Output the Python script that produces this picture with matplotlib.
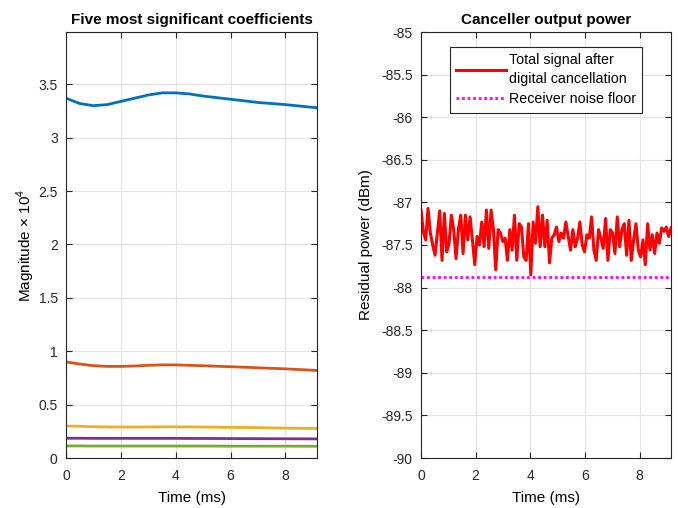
import matplotlib
matplotlib.use('Agg')
import matplotlib.pyplot as plt
import numpy as np

plt.rcParams['font.family'] = ['Liberation Sans', 'DejaVu Sans']
plt.rcParams['mathtext.fontset'] = 'custom'
plt.rcParams['mathtext.rm'] = 'Liberation Sans'
plt.rcParams['axes.unicode_minus'] = False

# Left panel: five largest coefficient magnitudes (x 1e4)
coef_t = [0, 0.5, 1.0, 1.5, 2.0, 2.5, 3.0, 3.5, 4.0, 4.5, 5.0, 6.0, 7.0, 8.0, 9.15]
coef_1 = [3.37, 3.32, 3.30, 3.31, 3.34, 3.37, 3.40, 3.42, 3.42, 3.41, 3.39, 3.36, 3.33, 3.31, 3.28]
coef_2 = [0.90, 0.88, 0.865, 0.858, 0.858, 0.862, 0.868, 0.872, 0.872, 0.868, 0.864, 0.855, 0.845, 0.835, 0.82]
coef_3 = [0.30, 0.297, 0.293, 0.291, 0.290, 0.290, 0.291, 0.292, 0.292, 0.291, 0.290, 0.287, 0.284, 0.280, 0.276]
coef_4 = [0.185, 0.185, 0.184, 0.184, 0.184, 0.184, 0.184, 0.184, 0.184, 0.183, 0.183, 0.182, 0.181, 0.180, 0.179]
coef_5 = [0.113, 0.113, 0.112, 0.112, 0.112, 0.112, 0.112, 0.112, 0.112, 0.112, 0.112, 0.111, 0.111, 0.111, 0.110]
coef_colors = ['#0072BD', '#D95319', '#EDB120', '#7E2F8E', '#77AC30']

# Right panel: residual power after digital cancellation (dBm)
residual = [-87.09, -87.34, -87.44, -87.07, -87.36, -87.50, -87.62, -87.36, -87.10, -87.68,
            -87.13, -87.58, -87.48, -87.15, -87.32, -87.66, -87.32, -87.15, -87.60, -87.15,
            -87.44, -87.17, -87.44, -87.73, -87.40, -87.50, -87.23, -87.52, -87.09, -87.54,
            -87.09, -87.32, -87.79, -87.32, -87.36, -87.46, -87.42, -87.68, -87.32, -87.56,
            -87.15, -87.68, -87.25, -87.29, -87.64, -87.68, -87.25, -87.85, -87.23, -87.48,
            -87.05, -87.52, -87.15, -87.52, -87.21, -87.71, -87.42, -87.38, -87.29, -87.46,
            -87.36, -87.42, -87.23, -87.40, -87.56, -87.32, -87.52, -87.42, -87.23, -87.50,
            -87.58, -87.38, -87.42, -87.17, -87.56, -87.68, -87.32, -87.42, -87.54, -87.19,
            -87.68, -87.32, -87.36, -87.60, -87.17, -87.52, -87.32, -87.25, -87.62, -87.21,
            -87.68, -87.44, -87.25, -87.56, -87.64, -87.44, -87.73, -87.25, -87.56, -87.38,
            -87.60, -87.36, -87.48, -87.30, -87.34, -87.29, -87.40, -87.30]
res_t = np.linspace(0, 9.15, len(residual))
noise_floor = -87.88

fig = plt.figure(figsize=(6.78, 5.08), dpi=100)
ax1 = fig.add_axes([66/678, 50/508, 251/678, 426/508])
ax2 = fig.add_axes([421/678, 50/508, 250/678, 426/508])

for c, col in zip([coef_1, coef_2, coef_3, coef_4, coef_5], coef_colors):
    ax1.plot(coef_t, c, color=col, lw=2)
ax1.set_xlim(0, 9.15)
ax1.set_ylim(0, 3.99)
ax1.set_yticks(np.arange(0, 3.6, 0.5))
ax1.set_yticklabels(['0', '0.5', '1', '1.5', '2', '2.5', '3', '3.5'])
ax1.set_xticks([0, 2, 4, 6, 8])
ax1.set_title('Five most significant coefficients', fontsize=11, fontweight='bold', pad=6)
ax1.set_xlabel('Time (ms)', fontsize=11, labelpad=6)
ax1.set_ylabel(r'Magnitude $\times$ 10$^4$', fontsize=11, labelpad=1)

ax2.plot(res_t, residual, color='#FF0000', lw=2.2, label='Total signal after\ndigital cancellation')
ax2.plot([0, 9.15], [noise_floor, noise_floor], color='#FF00FF', lw=2, ls=(0, (1, 1)),
         label='Receiver noise floor')
ax2.set_xlim(0, 9.15)
ax2.set_ylim(-90, -85)
ax2.set_yticks(np.arange(-90, -84.9, 0.5))
ax2.set_yticklabels(['-90', '-89.5', '-89', '-88.5', '-88', '-87.5', '-87', '-86.5', '-86', '-85.5', '-85'])
ax2.set_xticks([0, 2, 4, 6, 8])
ax2.set_title('Canceller output power', fontsize=11, fontweight='bold', pad=6)
ax2.set_xlabel('Time (ms)', fontsize=11, labelpad=6)
ax2.set_ylabel('Residual power (dBm)', fontsize=11, labelpad=6)
leg = ax2.legend(loc='upper center', bbox_to_anchor=(0.5, 0.965), fontsize=10.3,
                 fancybox=False, framealpha=1, edgecolor='#262626', handlelength=3.5,
                 borderaxespad=0, labelspacing=0.42, borderpad=0.45, handletextpad=0.2)
leg.get_frame().set_linewidth(0.8)
leg.get_texts()[0].set_linespacing(1.45)

for ax in (ax1, ax2):
    ax.grid(True, color='#e3e3e3', lw=0.8)
    ax.set_axisbelow(True)
    ax.tick_params(direction='in', top=True, right=True, labelsize=10, colors='#262626', length=4)
    ax.tick_params(axis='x', pad=8)
    ax.tick_params(axis='y', pad=6)
    for s in ax.spines.values():
        s.set_color('#262626')
        s.set_linewidth(0.8)

plt.savefig('out.png', dpi=100)
